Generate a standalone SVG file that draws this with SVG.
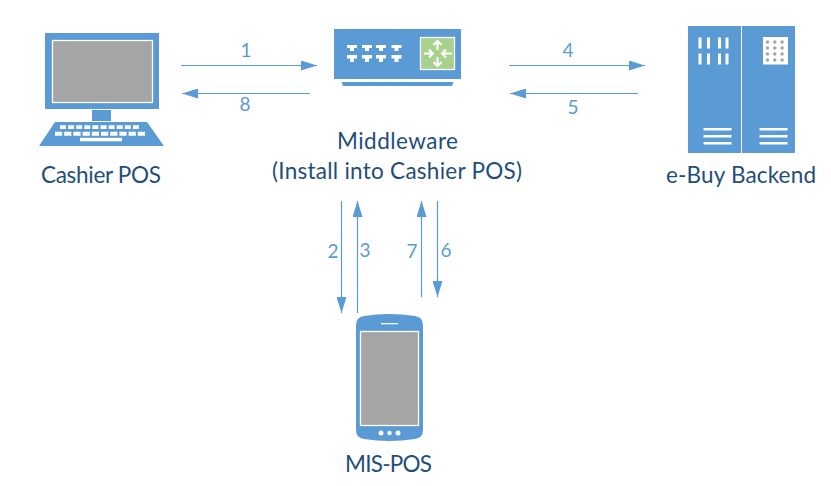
<svg xmlns="http://www.w3.org/2000/svg" width="831" height="486" viewBox="0 0 831 486">
<style>
.b{fill:#5b9bd5}
.g{fill:#a5a5a5;stroke:#fff;stroke-width:1.3}
.w{fill:#fff}
.c{stroke:#5b9bd5;stroke-width:1.2;fill:none;marker-end:url(#a)}
.t{font-family:Lato,"Liberation Sans",sans-serif;font-size:22.5px;fill:#1f4e79;text-anchor:middle}
.n{font-family:Lato,"Liberation Sans",sans-serif;font-size:19px;fill:#5b9bd5;text-anchor:middle}
</style>
<defs>
<marker id="a" markerUnits="userSpaceOnUse" markerWidth="16" markerHeight="10" refX="16" refY="5" orient="auto"><path d="M0 0L16 5L0 10Z" fill="#5b9bd5"/></marker>
</defs>
<rect width="831" height="486" fill="#fff"/>
<g id="cashier-pos">
<rect class="b" x="45" y="33" width="114" height="76"/>
<rect class="g" x="52.500" y="40.500" width="100" height="62"/>
<rect class="b" x="92" y="110" width="19" height="11"/>
<path class="b" d="M55 122H147L164 146H39Z"/>
<path d="M60 127.200H139" stroke="#fff" stroke-width="3.800" stroke-dasharray="6 2.100" fill="none"/>
<path d="M55 133.800H146" stroke="#fff" stroke-width="4" stroke-dasharray="7.200 2" fill="none"/>
<rect class="w" x="80" y="137.800" width="42" height="3.500"/>
<text class="t" x="101" y="183" textLength="120">Cashier POS</text>
</g>
<g id="middleware">
<rect class="b" x="334" y="29" width="127" height="50"/>
<path class="b" d="M341.500 82H453.500L452 86H343Z"/>
<g class="w">
<path id="p" d="M347 45H357V48H354V51H350V48H347Z"/>
<use href="#p" x="15"/><use href="#p" x="29"/><use href="#p" x="44.500"/>
<path id="q" d="M347 55H357V58.500H354V62H350V58.500H347Z"/>
<use href="#q" x="15"/><use href="#q" x="29"/><use href="#q" x="44.500"/>
</g>
<rect x="420.500" y="37.500" width="34" height="32" fill="#a9d18e" stroke="#fff" stroke-width="1.300"/>
<g stroke="#fff" stroke-width="2" fill="none">
<path d="M437.500 50V41M433.500 45L437.500 41L441.500 45"/>
<path d="M437.500 57V66M433.500 62L437.500 66L441.500 62"/>
<path d="M424 53.500H433M429 49.500L433 53.500L429 57.500"/>
<path d="M452 53.500H442M446 49.500L442 53.500L446 57.500"/>
</g>
<text class="t" x="397.500" y="149" textLength="121">Middleware</text>
<text class="t" x="397" y="179" textLength="250">(Install into Cashier POS)</text>
</g>
<g id="e-buy-backend">
<rect class="b" x="688" y="26" width="53" height="127"/>
<rect class="b" x="742" y="26" width="53" height="127"/>
<g class="w">
<rect x="698.500" y="37.500" width="3" height="11"/><rect x="707" y="37.500" width="3" height="11"/><rect x="718" y="37.500" width="3" height="11"/><rect x="725.500" y="37.500" width="3" height="11"/>
<rect x="698.500" y="53.500" width="3" height="11"/><rect x="707" y="53.500" width="3" height="11"/><rect x="718" y="53.500" width="3" height="11"/><rect x="725.500" y="53.500" width="3" height="11"/>
<rect x="703.500" y="128" width="28" height="2.500"/><rect x="703.500" y="135" width="28" height="2.500"/><rect x="703.500" y="142" width="28" height="2.500"/>
<rect x="759.500" y="128" width="28" height="2.500"/><rect x="759.500" y="135" width="28" height="2.500"/><rect x="759.500" y="142" width="28" height="2.500"/>
<rect x="763" y="37" width="25" height="27.500"/>
</g>
<g fill="none" stroke="#a5a5a5" stroke-width="3.500" stroke-linecap="round" stroke-dasharray="0 7.300">
<path d="M767.500 42H786"/><path d="M767.500 48H786"/><path d="M767.500 54H786"/><path d="M767.500 60H786"/>
</g>
<text class="t" x="741" y="183" textLength="150">e-Buy Backend</text>
</g>
<g id="mis-pos">
<path class="b" d="M356 325Q356 317 364 316Q389 312 415 316Q423 317 423 325V430Q423 438 415 439Q389 443 364 439Q356 438 356 430Z"/>
<rect class="g" x="360.500" y="331.500" width="58" height="94"/>
<rect class="w" x="381" y="323" width="17" height="1.300"/>
<circle class="w" cx="381" cy="433" r="2.500"/><circle class="w" cx="389.500" cy="433" r="2.200"/><circle class="w" cx="398" cy="433" r="2.500"/>
<text class="t" x="388.500" y="472" textLength="87">MIS-POS</text>
</g>
<g id="connectors">
<path class="c" d="M181 65.500H317"/>
<path class="c" d="M310 93.500H182"/>
<path class="c" d="M509 65.500H645"/>
<path class="c" d="M638 93.500H510"/>
<path class="c" d="M341.500 201V313"/>
<path class="c" d="M357.500 313V201"/>
<path class="c" d="M421.500 297V201"/>
<path class="c" d="M437.500 201V297"/>
</g>
<g id="labels">
<text class="n" x="246" y="57">1</text>
<text class="n" x="245" y="111">8</text>
<text class="n" x="568" y="57">4</text>
<text class="n" x="573" y="114">5</text>
<text class="n" x="333" y="258">2</text>
<text class="n" x="365" y="257">3</text>
<text class="n" x="412" y="258">7</text>
<text class="n" x="446" y="257">6</text>
</g>
</svg>
